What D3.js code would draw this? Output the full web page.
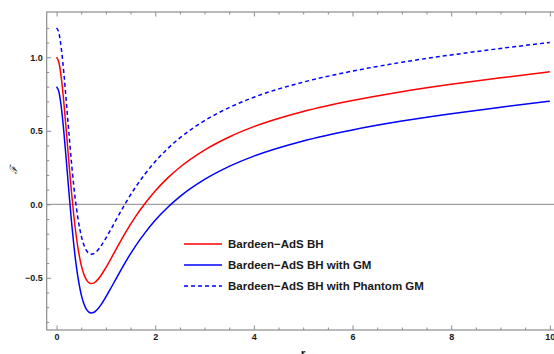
<!DOCTYPE html>
<html>
<head>
<meta charset="utf-8">
<script src="https://cdn.jsdelivr.net/npm/d3@7"></script>
<style>
  body { margin: 0; background: #fff; }
  svg { display: block; font-family: "Liberation Sans", Arial, sans-serif; }
</style>
</head>
<body>
<svg id="chart" width="554" height="354"></svg>
<script>
// Sample radii and metric function values for the three black-hole models
const radius = [0, 0.05, 0.1, 0.15, 0.2, 0.25, 0.3, 0.35, 0.4, 0.45, 0.5, 0.55, 0.6, 0.65, 0.7, 0.75, 0.8, 0.9, 1.0, 1.1, 1.2, 1.4, 1.6, 1.8, 2.0, 2.25, 2.5, 3, 3.5, 4, 5, 6, 7, 8, 9, 10];
const bardeenAdS = [1.0, 0.961, 0.849, 0.684, 0.488, 0.285, 0.092, -0.078, -0.219, -0.330, -0.414, -0.473, -0.511, -0.532, -0.539, -0.536, -0.524, -0.484, -0.430, -0.371, -0.310, -0.191, -0.084, 0.009, 0.091, 0.178, 0.252, 0.369, 0.458, 0.528, 0.631, 0.706, 0.766, 0.816, 0.860, 0.901];
const bardeenAdSGM = [0.8, 0.761, 0.649, 0.484, 0.288, 0.085, -0.108, -0.278, -0.419, -0.530, -0.614, -0.673, -0.711, -0.732, -0.739, -0.736, -0.724, -0.684, -0.630, -0.571, -0.510, -0.391, -0.284, -0.191, -0.109, -0.022, 0.052, 0.169, 0.258, 0.328, 0.431, 0.506, 0.566, 0.616, 0.660, 0.701];
const bardeenAdSPhantomGM = [1.2, 1.161, 1.049, 0.884, 0.688, 0.485, 0.292, 0.122, -0.019, -0.130, -0.214, -0.273, -0.311, -0.332, -0.339, -0.336, -0.324, -0.284, -0.230, -0.171, -0.110, 0.009, 0.116, 0.209, 0.291, 0.378, 0.452, 0.569, 0.658, 0.728, 0.831, 0.906, 0.966, 1.016, 1.060, 1.101];

const seriesNames = ["Bardeen\u2212AdS BH", "Bardeen\u2212AdS BH with GM", "Bardeen\u2212AdS BH with Phantom GM"];
const xMajorTicks = [0, 2, 4, 6, 8, 10];
const xTickLabels = ["0", "2", "4", "6", "8", "10"];
const yMajorTicks = [-0.5, 0, 0.5, 1.0];
const yTickLabels = ["\u22120.5", "0.0", "0.5", "1.0"];
const xMinorTicks = d3.range(0, 10.01, 0.5).filter(v => Math.abs(v / 2 - Math.round(v / 2)) > 1e-6);
const yMinorTicks = d3.range(-0.8, 1.21, 0.1).map(v => Math.round(v * 10) / 10).filter(v => Math.abs(v * 2 - Math.round(v * 2)) > 1e-6);

const svg = d3.select("#chart");
const frame = { left: 46.7, right: 559.7, top: 12, bottom: 330 };

const x = d3.scaleLinear().domain([-0.2, 10.2]).range([frame.left, frame.right]);
const y = d3.scaleLinear().domain([-0.855, 1.308]).range([frame.bottom, frame.top]);

const frameColor = "#8c8c8c";
const labelColor = "#1a1a1a";

svg.append("defs").append("clipPath").attr("id", "plot-clip")
  .append("rect")
  .attr("x", frame.left).attr("y", frame.top)
  .attr("width", frame.right - frame.left).attr("height", frame.bottom - frame.top);

// Horizontal axis line at zero
svg.append("line")
  .attr("x1", frame.left).attr("x2", frame.right)
  .attr("y1", y(0)).attr("y2", y(0))
  .attr("stroke", "#a0a0a0").attr("stroke-width", 1.2);

// Curves
const series = [
  { values: bardeenAdS, color: "#ff0000", dash: null },
  { values: bardeenAdSGM, color: "#0000ff", dash: null },
  { values: bardeenAdSPhantomGM, color: "#0000ff", dash: "4,3" }
];

const line = d3.line()
  .x(d => x(d[0]))
  .y(d => y(d[1]))
  .curve(d3.curveMonotoneX);

svg.append("g").attr("clip-path", "url(#plot-clip)")
  .selectAll("path")
  .data(series)
  .join("path")
  .attr("d", s => line(radius.map((r, i) => [r, s.values[i]])))
  .attr("fill", "none")
  .attr("stroke", s => s.color)
  .attr("stroke-width", 1.5)
  .attr("stroke-dasharray", s => s.dash);

// Frame axes with inward ticks
function styleAxis(g) {
  g.select(".domain").remove();
  g.selectAll(".tick line").attr("stroke", frameColor).attr("stroke-width", 1);
  g.selectAll(".tick text")
    .attr("fill", labelColor)
    .attr("font-size", 9)
    .attr("font-weight", "bold");
}

svg.append("g")
  .attr("transform", `translate(0,${frame.bottom})`)
  .call(d3.axisBottom(x).tickValues(xMajorTicks).tickFormat((d, i) => xTickLabels[i]).tickSize(-4.5).tickPadding(4))
  .call(styleAxis);
svg.append("g")
  .attr("transform", `translate(0,${frame.bottom})`)
  .call(d3.axisBottom(x).tickValues(xMinorTicks).tickFormat("").tickSize(-2.5))
  .call(styleAxis);
svg.append("g")
  .attr("transform", `translate(0,${frame.top})`)
  .call(d3.axisTop(x).tickValues(xMajorTicks).tickFormat("").tickSize(-4.5))
  .call(styleAxis);
svg.append("g")
  .attr("transform", `translate(0,${frame.top})`)
  .call(d3.axisTop(x).tickValues(xMinorTicks).tickFormat("").tickSize(-2.5))
  .call(styleAxis);
svg.append("g")
  .attr("transform", `translate(${frame.left},0)`)
  .call(d3.axisLeft(y).tickValues(yMajorTicks).tickFormat((d, i) => yTickLabels[i]).tickSize(-4.5).tickPadding(4))
  .call(styleAxis);
svg.append("g")
  .attr("transform", `translate(${frame.left},0)`)
  .call(d3.axisLeft(y).tickValues(yMinorTicks).tickFormat("").tickSize(-2.5))
  .call(styleAxis);

// Frame rectangle
svg.append("rect")
  .attr("x", frame.left).attr("y", frame.top)
  .attr("width", frame.right - frame.left).attr("height", frame.bottom - frame.top)
  .attr("fill", "none").attr("stroke", frameColor).attr("stroke-width", 1.2);

// Axis labels
svg.append("text")
  .attr("transform", `translate(17,${y(0.23)}) rotate(-90)`)
  .attr("text-anchor", "middle")
  .attr("font-family", "DejaVu Serif, serif")
  .attr("font-style", "italic")
  .attr("font-size", 10)
  .attr("fill", labelColor)
  .text("\u2131");
svg.append("text")
  .attr("x", (frame.left + frame.right) / 2)
  .attr("y", 358)
  .attr("text-anchor", "middle")
  .attr("font-size", 12)
  .attr("font-weight", "bold")
  .attr("fill", labelColor)
  .text("r");

// Legend
const legend = svg.append("g").attr("transform", "translate(184,244)");
const rows = legend.selectAll("g")
  .data(series)
  .join("g")
  .attr("transform", (d, i) => `translate(0,${i * 21})`);
rows.append("line")
  .attr("x1", 0).attr("x2", 38)
  .attr("stroke", d => d.color)
  .attr("stroke-width", 1.5)
  .attr("stroke-dasharray", d => d.dash);
rows.append("text")
  .attr("x", 44)
  .attr("dy", "0.36em")
  .attr("font-size", 11.5)
  .attr("font-weight", "bold")
  .attr("fill", labelColor)
  .text((d, i) => seriesNames[i]);
</script>
</body>
</html>
